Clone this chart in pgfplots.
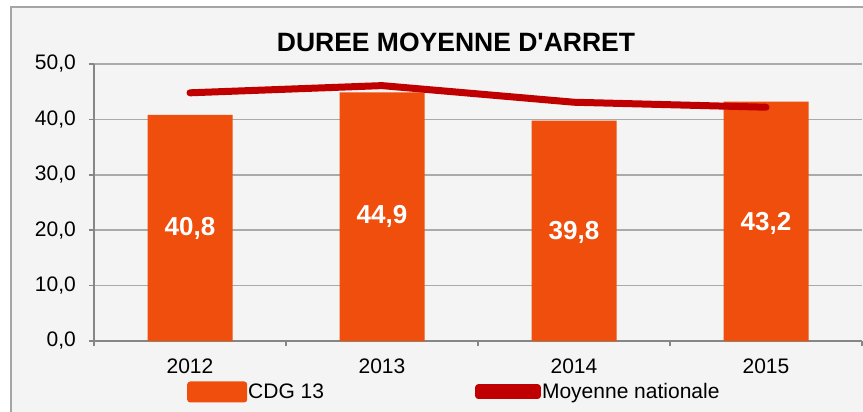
\documentclass[border=0pt]{standalone}
\usepackage{fontspec}
\setmainfont{Liberation Sans}
\usepackage{pgfplots}
\usepackage{pgfplotstable}
\pgfplotsset{compat=1.18}
\definecolor{barorange}{RGB}{240,78,12}
\definecolor{linered}{RGB}{192,0,0}
\definecolor{bggray}{RGB}{244,244,244}
\definecolor{gridgray}{RGB}{170,170,170}
\definecolor{axisgray}{RGB}{134,134,134}
\definecolor{framegray}{RGB}{165,165,165}

\pgfplotstableread{
x y
0 40.8
1 44.9
2 39.8
3 43.2
}\cdgdata
\pgfplotstableread{
x y
0 44.8
1 46.1
2 43.1
3 42.2
}\natdata
\pgfplotstableread{
x y lab
0 20.3 {40,8}
1 22.4 {44,9}
2 19.6 {39,8}
3 21.2 {43,2}
}\labdata

\begin{document}
\begin{tikzpicture}
\clip (0pt,0pt) rectangle (863pt,-412pt);
\fill[white] (0pt,0pt) rectangle (863pt,-412pt);
\filldraw[fill=bggray, draw=framegray, line width=1.5pt] (11pt,-7pt) rectangle (900pt,-450pt);
\node[anchor=base, font=\bfseries\fontsize{26.5}{30}\selectfont] at (456pt,-52pt) {DUREE MOYENNE D\textquotesingle ARRET};
\begin{axis}[
  at={(94pt,-341pt)}, anchor=south west,
  scale only axis, width=768pt, height=277pt,
  xmin=-0.5, xmax=3.5, ymin=0, ymax=50,
  axis x line=bottom, axis y line=left,
  axis line style={axisgray, line width=1.5pt, -},
  tick align=outside,
  major tick length=0pt, minor tick length=5pt,
  tick style={axisgray, line width=1.5pt},
  xtick={0,1,2,3}, xticklabels={2012,2013,2014,2015},
  minor xtick={-0.5,0.5,1.5,2.5,3.5},
  ytick={0,10,20,30,40,50},
  minor ytick={0,10,20,30,40,50},
  ymajorgrids, grid style={gridgray, line width=1.5pt},
  xticklabel style={font=\fontsize{21}{24}\selectfont, inner sep=0pt, yshift=-18pt},
  yticklabel style={font=\fontsize{21}{24}\selectfont, inner sep=0pt, xshift=-18pt,
    /pgf/number format/.cd, fixed, fixed zerofill, precision=1, use comma, assume math mode=true},
  legend columns=2,
  legend style={at={(axis description cs:0.1211,-0.184)}, anchor=west, draw=none, fill=none,
    inner sep=0pt, font=\fontsize{21}{24}\selectfont,
    /tikz/every even column/.append style={column sep=150pt},
    nodes={inner sep=1pt}},
]
\addplot[ybar, bar width=85pt, fill=barorange, draw=none,
  legend image code/.code={\fill[barorange, rounded corners=3pt] (0pt,-10.5pt) rectangle (60pt,10.5pt);}]
  table[x=x, y=y] {\cdgdata};
\addlegendentry{CDG 13}
\addplot[linered, line width=7pt, line join=round, line cap=round, mark=none,
  legend image code/.code={\path (0pt,-4pt) rectangle (59pt,4pt); \draw[linered, line width=8pt, line cap=round] (4pt,0pt) -- (55pt,0pt);}]
  table[x=x, y=y] {\natdata};
\addlegendentry{Moyenne nationale}
\addplot[forget plot, draw=none, mark=none, nodes near coords, point meta=explicit symbolic,
  every node near coord/.append style={anchor=center, text=white, font=\bfseries\fontsize{26}{30}\selectfont}]
  table[x=x, y=y, meta=lab] {\labdata};
\end{axis}
\end{tikzpicture}
\end{document}
